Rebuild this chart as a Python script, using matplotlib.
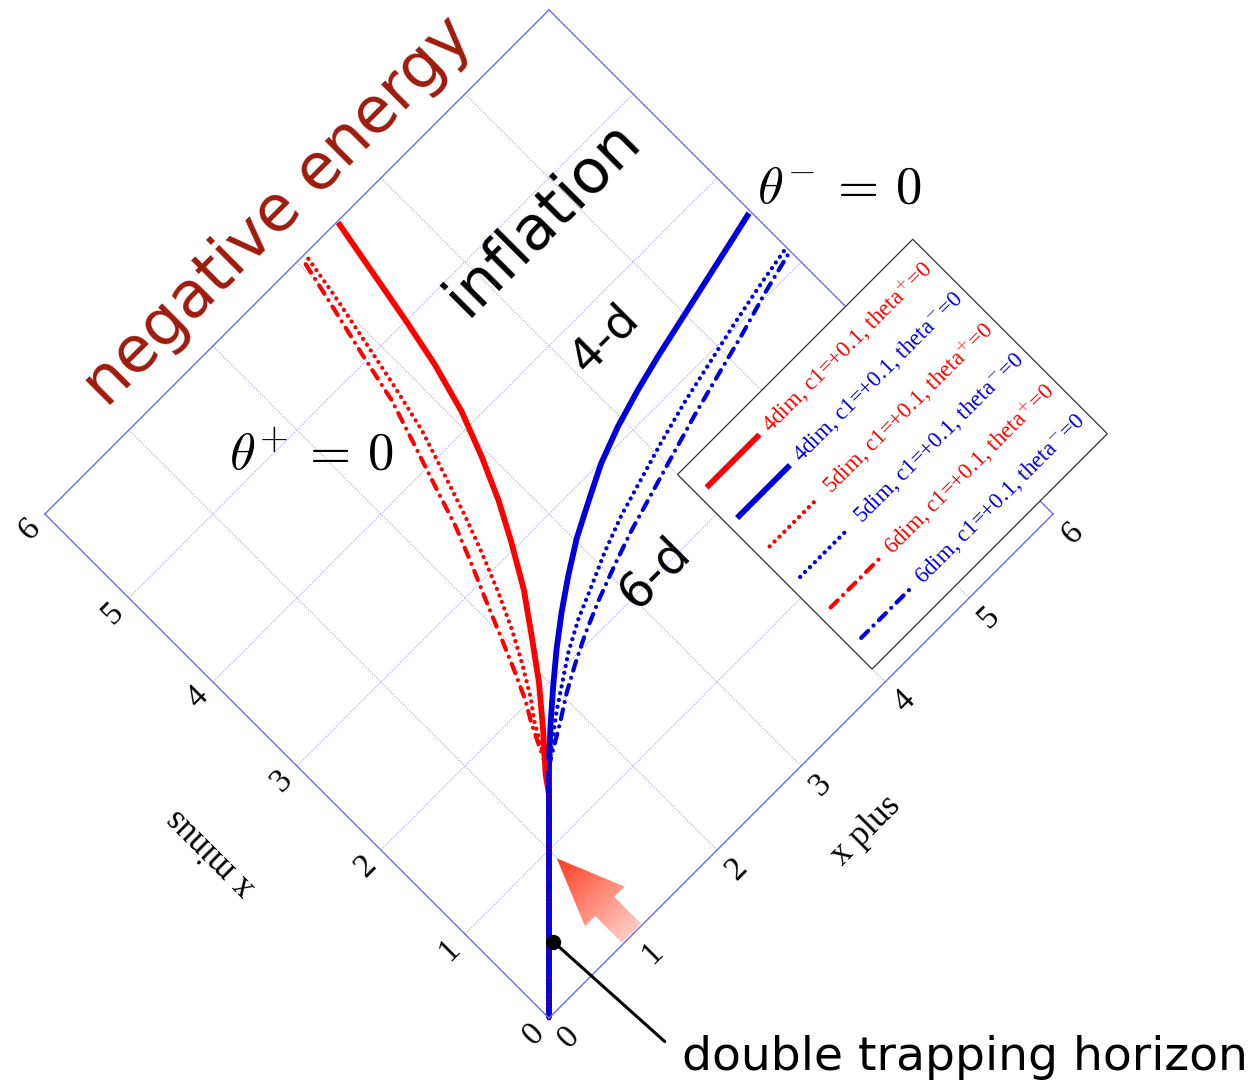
import numpy as np
import matplotlib
matplotlib.use("Agg")
import matplotlib.pyplot as plt
from matplotlib.transforms import Affine2D
from matplotlib.patches import Rectangle, FancyArrow
import mpl_toolkits.axisartist.floating_axes as floating_axes
from mpl_toolkits.axisartist.grid_finder import FixedLocator, DictFormatter

plt.rcParams['mathtext.fontset'] = 'cm'

# ---- data: trapping horizons in (x plus, x minus) ----
ticks = [0, 1, 2, 3, 4, 5, 6]
tick_labels = ["0", "1", "2", "3", "4", "5", "6"]

xp_4d_plus = [0, 1.33, 1.43, 1.68, 1.94, 2.18, 2.40, 2.61, 2.78, 2.94, 3.09,
              3.21, 3.30, 3.39, 3.48]
xm_4d_plus = [0, 1.33, 1.47, 1.75, 2.06, 2.39, 2.70, 3.06, 3.38, 3.74, 4.13,
              4.57, 5.01, 5.50, 5.99]

xp_4d_minus = [0, 1.53, 1.77, 2.00, 2.24, 2.49, 2.75, 3.02, 3.31, 3.61, 3.93,
               4.27, 4.59, 4.95, 5.31, 5.67, 5.98]
xm_4d_minus = [0, 1.53, 1.75, 1.95, 2.15, 2.34, 2.52, 2.69, 2.84, 2.99, 3.11,
               3.21, 3.29, 3.37, 3.45, 3.53, 3.60]

xp_5d_plus = [0, 1.45, 1.67, 1.80, 1.95, 2.09, 2.23, 2.37, 2.49, 2.61, 2.74,
              2.84, 2.93, 3.02, 3.09]
xm_5d_plus = [0, 1.45, 1.84, 2.02, 2.27, 2.53, 2.83, 3.17, 3.49, 3.85, 4.25,
              4.68, 5.12, 5.56, 5.97]

xp_5d_minus = [0, 1.50, 1.87, 2.08, 2.29, 2.55, 2.83, 3.10, 3.42, 3.76, 4.10,
               4.48, 4.84, 5.24, 5.64, 5.98]
xm_5d_minus = [0, 1.50, 1.78, 1.92, 2.06, 2.20, 2.32, 2.44, 2.56, 2.66, 2.76,
               2.86, 2.94, 3.03, 3.11, 3.17]

xp_6d_plus = [0, 1.45, 1.65, 1.75, 1.86, 1.98, 2.11, 2.24, 2.37, 2.49, 2.61,
              2.74, 2.84, 2.95, 3.04]
xm_6d_plus = [0, 1.45, 1.86, 2.03, 2.27, 2.55, 2.86, 3.16, 3.48, 3.85, 4.21,
              4.61, 5.07, 5.54, 5.94]

xp_6d_minus = [0, 1.50, 1.82, 2.04, 2.26, 2.50, 2.78, 3.10, 3.39, 3.73, 4.07,
               4.45, 4.83, 5.22, 5.60, 5.96]
xm_6d_minus = [0, 1.50, 1.69, 1.83, 1.95, 2.07, 2.19, 2.31, 2.41, 2.51, 2.61,
               2.72, 2.82, 2.92, 3.03, 3.12]

series_labels = [
    "4dim, c1=+0.1, theta$^{+}$=0",
    "4dim, c1=+0.1, theta$^{-}$=0",
    "5dim, c1=+0.1, theta$^{+}$=0",
    "5dim, c1=+0.1, theta$^{-}$=0",
    "6dim, c1=+0.1, theta$^{+}$=0",
    "6dim, c1=+0.1, theta$^{-}$=0",
]

dth_point = (0.48, 0.43)   # double trapping horizon

RED = "#ff0000"
BLUE = "#0000dd"
DOT = (0, (0.01, 1.6))
DASHDOT = (0, (2.4, 1.8, 0.01, 1.8))
styles = [
    dict(color=RED, lw=4.2, ls="-"),
    dict(color=BLUE, lw=4.2, ls="-"),
    dict(color=RED, lw=3.1, ls=DOT),
    dict(color=BLUE, lw=3.1, ls=DOT),
    dict(color=RED, lw=3.0, ls=DASHDOT),
    dict(color=BLUE, lw=3.0, ls=DASHDOT),
]
curves = [
    (xp_4d_plus, xm_4d_plus), (xp_4d_minus, xm_4d_minus),
    (xp_5d_plus, xm_5d_plus), (xp_5d_minus, xm_5d_minus),
    (xp_6d_plus, xm_6d_plus), (xp_6d_minus, xm_6d_minus),
]

W, H = 1257, 1083
fig = plt.figure(figsize=(W / 100, H / 100), dpi=100)

# ---- null-coordinate diagram: axes rotated by 45 degrees ----
rot = Affine2D().rotate_deg(45)
grid_helper = floating_axes.GridHelperCurveLinear(
    rot, extremes=(0, 6, 0, 6),
    grid_locator1=FixedLocator(ticks), grid_locator2=FixedLocator(ticks),
    tick_formatter1=DictFormatter(dict(zip(ticks, tick_labels))),
    tick_formatter2=DictFormatter(dict(zip(ticks, tick_labels))),
)
side = 1028.4
cx, cy = 549, 514
ax = fig.add_axes([(cx - side / 2) / W, (H - cy - side / 2) / H, side / W, side / H],
                  axes_class=floating_axes.FloatingAxes, grid_helper=grid_helper)
aux = ax.get_aux_axes(rot)

frame_color = "#6a6aff"
for key in ["left", "right", "bottom", "top"]:
    a = ax.axis[key]
    a.line.set_color(frame_color)
    a.line.set_linewidth(1.0)
    a.major_ticks.set_ticksize(0)
    a.minor_ticks.set_ticksize(0)
for key in ["right", "top"]:
    ax.axis[key].toggle(ticklabels=False, label=False)

serif = "Liberation Serif"
for key, lab, lpad in [("bottom", "x plus", 28), ("left", "x minus", 54)]:
    a = ax.axis[key]
    a.major_ticklabels.set_fontsize(24)
    a.major_ticklabels.set_fontfamily(serif)
    a.major_ticklabels.set_pad(10)
    a.label.set_text(lab)
    a.label.set_fontsize(25)
    a.label.set_fontfamily(serif)
    a.label.set_pad(lpad)

ax.grid(True, color="#a8a8f8", lw=0.6, ls=(0, (2, 1.5)))

for (xp, xm), st in zip(curves, styles):
    aux.plot(xp, xm, solid_capstyle="butt", dash_capstyle="round",
             solid_joinstyle="round", **st)

aux.plot([dth_point[0]], [dth_point[1]], "o", color="k", ms=10, zorder=20)
aux.annotate("double trapping horizon", xy=dth_point, xycoords="data",
             xytext=(682, H - 1057), textcoords="figure pixels",
             fontsize=34, ha="left", va="center", annotation_clip=False,
             arrowprops=dict(arrowstyle="-", color="k", lw=2.2,
                             relpos=(0, 0.5), shrinkA=14, shrinkB=0))

# ---- legend box, aligned with the null directions ----
leg_xp0, leg_xp1 = 4.0, 6.8
leg_xm0, leg_xm1 = 0.155, 2.47
aux.add_patch(Rectangle((leg_xp0, leg_xm0), leg_xp1 - leg_xp0, leg_xm1 - leg_xm0,
                        fc="white", ec="#333333", lw=0.9, clip_on=False, zorder=30))
for i, (lab, st) in enumerate(zip(series_labels, styles)):
    y = 2.22 - 0.363 * i
    aux.plot([4.12, 4.70], [y, y], clip_on=False, zorder=31,
             dash_capstyle="round", **st)
    aux.text(4.80, y, lab, rotation=45, rotation_mode="anchor", ha="left",
             va="center", color=st["color"], fontsize=16.5, family=serif,
             clip_on=False, zorder=32)

# ---- overlay in figure pixels for region labels ----
ov = fig.add_axes([0, 0, 1, 1])
ov.set_xlim(0, W)
ov.set_ylim(H, 0)
ov.axis("off")
ov.patch.set_alpha(0)
ov.set_zorder(5)

sans = "DejaVu Sans"
ov.text(278, 212, "negative energy", rotation=45, fontsize=46, color="#9e1b0c",
        family=sans, ha="center", va="center")
ov.text(543, 219, "inflation", rotation=45, fontsize=44, color="black",
        family=sans, ha="center", va="center")
ov.text(605, 339, "4-d", rotation=45, fontsize=34, color="black",
        family=sans, ha="center", va="center")
ov.text(654, 573, "6-d", rotation=45, fontsize=35, color="black",
        family=sans, ha="center", va="center")
ov.text(311, 454, r"$\theta^{+}\,=\,0$", fontsize=38, ha="center", va="center")
ov.text(839, 188, r"$\theta^{-}\,=\,0$", fontsize=38, ha="center", va="center")

# gradient arrow pointing at the double trapping horizon line
tail = np.array([631.7, 933.3])
tip = np.array([556.7, 858.3])
arrow = FancyArrow(tail[0], tail[1], tip[0] - tail[0], tip[1] - tail[1],
                   width=27, head_width=56, head_length=68,
                   length_includes_head=True, fc="none", ec="none")
ov.add_patch(arrow)
x0, x1, y0, y1 = 540, 660, 840, 960
gx, gy = np.meshgrid(np.linspace(x0, x1, 240), np.linspace(y0, y1, 240))
u = tail - tip
t = ((gx - tip[0]) * u[0] + (gy - tip[1]) * u[1]) / (u @ u)
t = np.clip(t, 0, 1)[..., None]
c_tip = np.array([1.0, 0.24, 0.12])
c_tail = np.array([1.0, 0.80, 0.78])
img = c_tip * (1 - t) + c_tail * t
im = ov.imshow(img, extent=(x0, x1, y1, y0), origin="upper", zorder=3,
               interpolation="bilinear")
im.set_clip_path(arrow)
ov.set_xlim(0, W)
ov.set_ylim(H, 0)

fig.savefig("out.png", dpi=100)
